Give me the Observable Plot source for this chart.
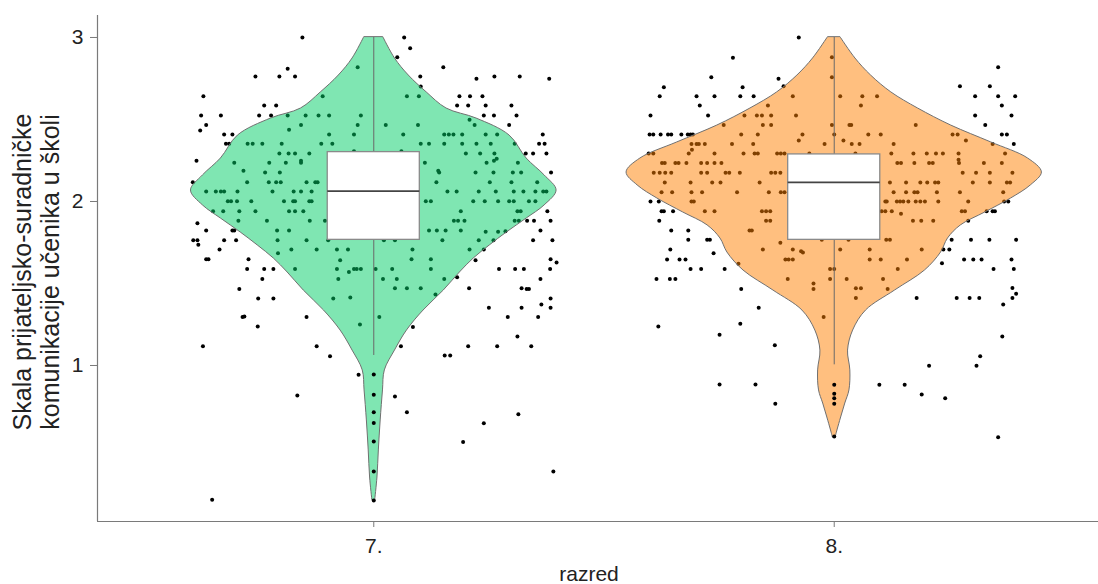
<!DOCTYPE html>
<html>
<head>
<meta charset="utf-8">
<script src="https://cdn.jsdelivr.net/npm/d3@7"></script>
<script src="https://cdn.jsdelivr.net/npm/@observablehq/plot@0.6"></script>
<style>
  html, body { margin: 0; padding: 0; background: #fff; }
</style>
</head>
<body>
<div id="chart"></div>
<script>
// ---------- data ----------
const categories = ["7.", "8."];
const fills = ["#00CD66", "#FF7F00"];
const yTicks = [1, 2, 3];
const yTickLabels = ["1", "2", "3"];
const xTitle = "razred";
const yTitleLines = ["Skala prijateljsko-suradničke", "komunikacije učenika u školi"];

// violin outlines: value and half width (in category units)
const violin7Values = [3.0, 2.872, 2.768, 2.665, 2.567, 2.506, 2.402, 2.262, 2.159, 2.067, 1.976, 1.896, 1.811, 1.732, 1.652, 1.567, 1.457, 1.335, 1.213, 1.091, 0.970, 0.848, 0.665, 0.482, 0.317, 0.177];
const violin7Half   = [0.021, 0.046, 0.076, 0.115, 0.158, 0.223, 0.295, 0.332, 0.371, 0.397, 0.371, 0.332, 0.289, 0.252, 0.217, 0.187, 0.152, 0.108, 0.072, 0.046, 0.024, 0.020, 0.015, 0.011, 0.008, 0.003];
const violin8Values = [3.0, 2.872, 2.768, 2.665, 2.567, 2.463, 2.360, 2.262, 2.177, 2.098, 2.018, 1.933, 1.854, 1.774, 1.689, 1.579, 1.457, 1.335, 1.213, 1.091, 0.970, 0.848, 0.768, 0.683, 0.604, 0.561];
const violin8Half   = [0.014, 0.046, 0.080, 0.124, 0.182, 0.254, 0.341, 0.421, 0.451, 0.427, 0.384, 0.328, 0.275, 0.247, 0.232, 0.197, 0.132, 0.069, 0.041, 0.030, 0.035, 0.033, 0.024, 0.015, 0.007, 0.003];

// box plot statistics per category
const whiskerLow  = [1.061, 1.004];
const q1          = [1.766, 1.766];
const median      = [2.063, 2.116];
const q3          = [2.301, 2.287];
const whiskerHigh = [3.0, 3.0];
const outliers7 = [0.945, 0.821, 0.715, 0.650, 0.537, 0.354, 0.177];
const outliers8 = [0.882, 0.827, 0.801, 0.767, 0.567];

// jittered observations: [value, horizontal jitter in category units]
const points7 = [
[3.0,-0.155],[3.0,0.066],[2.935,0.079],[2.88,0.051],[2.819,-0.035],[2.809,-0.187],[2.819,0.151],
[2.762,-0.257],[2.762,-0.205],[2.762,-0.171],[2.762,0.101],[2.762,0.262],[2.762,0.317],[2.748,0.223],[2.748,0.381],
[2.701,0.102],
[2.642,-0.370],[2.642,-0.111],[2.642,0.072],[2.642,0.098],[2.642,0.186],[2.642,0.209],[2.642,0.236],
[2.585,-0.238],[2.585,-0.212],[2.585,0.181],[2.585,0.205],[2.585,0.243],[2.585,0.299],
[2.524,-0.375],[2.524,-0.332],[2.524,-0.249],[2.524,-0.223],[2.524,-0.187],[2.524,-0.148],[2.524,-0.120],[2.524,-0.097],[2.524,-0.028],[2.524,0.239],[2.524,0.261],[2.524,0.310],
[2.467,-0.364],[2.467,-0.158],[2.467,-0.035],[2.467,0.026],[2.467,0.096],[2.467,0.219],[2.467,0.294],[2.498,0.208],[2.433,-0.377],[2.437,-0.184],
[2.409,-0.325],[2.409,-0.307],[2.409,-0.097],[2.409,-0.043],[2.409,0.064],[2.409,0.153],[2.409,0.163],[2.409,0.173],[2.409,0.192],[2.409,0.243],[2.409,0.268],[2.409,0.367],
[2.352,-0.321],[2.352,-0.314],[2.352,-0.274],[2.352,-0.263],[2.352,-0.242],[2.352,-0.200],[2.352,-0.114],[2.352,-0.090],[2.352,0.102],[2.352,0.120],[2.352,0.153],[2.352,0.192],[2.352,0.223],[2.352,0.254],[2.352,0.306],[2.352,0.359],[2.352,0.371],
[2.293,-0.205],[2.293,-0.185],[2.293,-0.171],[2.293,-0.140],[2.293,0.200],[2.293,0.231],[2.293,0.262],[2.293,0.330],[2.293,0.346],[2.293,0.375],[2.307,-0.043],[2.307,0.060],
[2.236,-0.303],[2.236,-0.227],[2.236,-0.191],[2.236,-0.158],[2.236,0.111],[2.236,0.245],[2.236,0.313],[2.248,-0.385],[2.248,-0.158],[2.248,0.261],[2.26,0.267],
[2.177,-0.236],[2.177,-0.204],[2.177,0.142],[2.177,0.221],[2.177,0.260],[2.177,0.302],[2.177,0.320],[2.177,0.385],[2.187,-0.283],[2.187,0.140],
[2.118,-0.393],[2.118,-0.275],[2.118,-0.228],[2.118,-0.212],[2.118,-0.202],[2.118,-0.146],[2.118,-0.127],[2.118,-0.122],[2.118,0.136],[2.118,0.252],[2.118,0.299],[2.118,0.355],
[2.061,-0.364],[2.061,-0.343],[2.061,-0.332],[2.061,-0.325],[2.061,-0.296],[2.061,-0.220],[2.061,-0.174],[2.061,-0.158],[2.061,-0.135],[2.061,0.160],[2.061,0.180],[2.061,0.228],[2.061,0.265],[2.061,0.304],[2.061,0.325],[2.061,0.351],[2.061,0.368],[2.061,0.375],
[2.002,-0.317],[2.002,-0.310],[2.002,-0.297],[2.002,-0.266],[2.002,-0.195],[2.002,-0.175],[2.002,-0.171],[2.002,-0.140],[2.002,-0.135],[2.002,0.113],[2.002,0.124],[2.002,0.216],[2.002,0.241],[2.002,0.270],[2.002,0.294],[2.002,0.304],[2.002,0.337],[2.002,0.351],
[1.941,-0.349],[1.941,-0.327],[1.941,-0.292],[1.941,-0.257],[1.941,-0.184],[1.941,-0.171],[1.941,-0.153],[1.941,0.189],[1.941,0.312],[1.941,0.319],[1.941,0.377],
[1.868,-0.383],[1.882,-0.294],[1.882,-0.232],[1.882,-0.139],[1.882,-0.106],[1.882,0.174],[1.882,0.183],[1.882,0.197],[1.882,0.306],[1.882,0.315],[1.882,0.333],[1.882,0.348],[1.882,0.384],
[1.823,-0.364],[1.823,-0.307],[1.823,-0.303],[1.823,-0.210],[1.823,-0.184],[1.823,0.120],[1.823,0.137],[1.823,0.156],[1.823,0.189],[1.815,0.243],[1.815,0.270],[1.818,0.286],[1.823,0.362],
[1.764,-0.392],[1.764,-0.383],[1.736,-0.381],[1.764,-0.325],[1.764,-0.299],[1.764,-0.209],[1.764,-0.146],[1.764,-0.099],[1.764,0.022],[1.764,0.046],[1.764,0.149],[1.764,0.228],[1.764,0.260],[1.764,0.346],[1.764,0.388],
[1.707,-0.335],[1.685,-0.208],[1.707,-0.179],[1.707,-0.124],[1.707,-0.080],[1.707,-0.056],[1.707,0.084],[1.707,0.208],[1.707,0.239],
[1.648,-0.364],[1.648,-0.359],[1.648,-0.272],[1.642,-0.073],[1.648,0.082],[1.648,0.124],[1.642,0.221],[1.648,0.384],[1.628,0.397],
[1.589,-0.275],[1.589,-0.238],[1.589,-0.218],[1.589,-0.171],[1.589,-0.080],[1.57,-0.054],[1.589,-0.043],[1.589,-0.037],[1.589,-0.028],[1.589,0.004],[1.589,0.040],[1.589,0.124],[1.589,0.272],[1.589,0.307],[1.589,0.326],[1.589,0.383],
[1.528,-0.242],[1.528,-0.077],[1.528,0.020],[1.528,0.050],[1.528,0.153],[1.538,0.181],[1.528,0.362],
[1.467,-0.292],[1.471,0.046],[1.471,0.072],[1.471,0.102],[1.471,0.207],[1.471,0.321],[1.467,0.332],[1.467,0.337],
[1.409,-0.251],[1.409,-0.218],[1.409,-0.088],[1.415,-0.051],[1.433,0.134],[1.409,0.384],
[1.352,0.250],[1.352,0.321],[1.372,0.364],[1.352,0.384],
[1.295,-0.285],[1.298,-0.281],[1.295,-0.146],[1.295,0.012],[1.295,0.291],[1.295,0.357],
[1.238,-0.252],[1.250,-0.030],[1.234,0.085],
[1.177,0.312],
[1.118,-0.371],[1.118,-0.124],[1.118,0.059],[1.118,0.205],[1.118,0.268],[1.118,0.342],
[1.057,-0.095],[1.061,0.154],[1.061,0.166],
[0.943,-0.033],
[0.817,-0.166],[0.811,0.046],
[0.715,0.072],[0.703,0.314],
[0.648,0.239],
[0.533,0.194],
[0.354,0.390],
[0.181,-0.351]
];
const points8 = [
[3.0,-0.077],[2.876,-0.220],[2.880,-0.005],[2.758,-0.267],[2.748,-0.121],[2.758,-0.005],[2.819,0.356],
[2.697,-0.370],[2.697,-0.199],[2.703,-0.110],[2.703,0.273],[2.703,0.338],
[2.642,-0.379],[2.642,-0.299],[2.642,-0.260],[2.642,-0.204],[2.642,-0.175],[2.642,-0.090],[2.642,0.013],[2.642,0.061],[2.642,0.093],[2.642,0.306],[2.642,0.356],[2.642,0.393],
[2.585,-0.292],[2.585,0.058],[2.585,-0.144],[2.585,0.364],
[2.524,-0.399],[2.524,-0.274],[2.524,-0.195],[2.524,-0.168],[2.524,-0.157],[2.524,-0.137],[2.524,-0.083],[2.524,0.306],[2.524,0.385],
[2.467,-0.240],[2.467,-0.155],[2.467,-0.137],[2.467,-0.005],[2.467,0.033],[2.467,0.037],[2.467,0.177],[2.467,0.328],
[2.409,-0.401],[2.409,-0.393],[2.409,-0.377],[2.409,-0.361],[2.409,-0.354],[2.409,-0.332],[2.409,-0.318],[2.409,-0.312],[2.409,-0.307],[2.409,-0.202],[2.409,-0.166],[2.409,-0.069],[2.409,0.0],[2.409,0.074],[2.409,0.101],[2.409,0.257],[2.409,0.268],[2.409,0.364],[2.409,0.375],
[2.350,-0.310],[2.350,-0.299],[2.350,-0.294],[2.350,-0.281],[2.350,-0.222],[2.350,-0.176],[2.372,-0.077],[2.350,-0.021],[2.372,0.020],[2.350,0.038],[2.350,0.055],[2.350,0.129],[2.372,0.286],[2.350,0.344],[2.350,0.390],
[2.293,-0.403],[2.293,-0.393],[2.293,-0.316],[2.293,-0.260],[2.293,-0.197],[2.293,-0.173],[2.293,-0.166],[2.293,-0.124],[2.293,-0.116],[2.293,-0.108],[2.293,-0.054],[2.293,0.046],[2.293,0.124],[2.293,0.172],[2.293,0.201],[2.293,0.221],[2.293,0.236],[2.293,0.270],[2.293,0.371],[2.315,-0.309],
[2.234,-0.374],[2.234,-0.368],[2.234,-0.345],[2.234,-0.338],[2.234,-0.321],[2.234,-0.289],[2.234,-0.276],[2.234,-0.260],[2.234,-0.245],[2.234,0.137],[2.234,0.145],[2.234,0.174],[2.234,0.206],[2.234,0.214],[2.234,0.271],[2.234,0.325],[2.234,0.364],[2.255,0.270],
[2.175,-0.392],[2.175,-0.379],[2.175,-0.367],[2.175,-0.354],[2.175,-0.289],[2.175,-0.276],[2.175,-0.236],[2.175,-0.228],[2.175,-0.205],[2.175,-0.137],[2.175,-0.128],[2.175,-0.117],[2.175,0.279],[2.175,0.308],[2.175,0.338],[2.175,0.387],
[2.116,-0.368],[2.116,-0.312],[2.116,-0.265],[2.116,-0.247],[2.116,-0.162],[2.116,0.121],[2.116,0.156],[2.116,0.187],[2.116,0.202],[2.116,0.219],[2.116,0.226],[2.116,0.301],[2.116,0.338],[2.116,0.375],[2.116,0.382],
[2.057,-0.375],[2.057,-0.352],[2.057,-0.310],[2.057,-0.287],[2.057,-0.211],[2.057,-0.142],[2.057,-0.116],[2.057,-0.108],[2.057,0.129],[2.057,0.156],[2.057,0.174],[2.057,0.181],[2.057,0.223],[2.057,0.273],[2.057,0.367],
[2.0,-0.399],[2.0,-0.381],[2.0,-0.310],[2.0,-0.305],[2.0,0.111],[2.0,0.114],[2.0,0.136],[2.0,0.143],[2.0,0.150],[2.0,0.161],[2.0,0.177],[2.0,0.187],[2.0,0.197],[2.0,0.226],[2.0,0.291],[2.0,0.369],[2.0,0.378],
[1.941,-0.375],[1.941,-0.370],[1.941,-0.350],[1.941,-0.281],[1.941,-0.260],[1.941,-0.157],[1.941,-0.148],[1.941,-0.139],[1.941,0.103],[1.941,0.111],[1.941,0.125],[1.941,0.277],[1.941,0.284],[1.941,0.331],[1.941,0.344],[1.941,0.349],[1.925,0.145],
[1.882,-0.380],[1.882,-0.148],[1.882,-0.139],[1.882,0.171],[1.882,0.189],[1.882,0.215],[1.882,0.291],
[1.823,-0.354],[1.823,-0.317],[1.823,-0.184],[1.823,-0.179],
[1.766,-0.317],[1.766,-0.276],[1.766,-0.270],[1.748,-0.117],[1.766,-0.027],[1.766,0.031],[1.766,0.113],[1.766,0.121],[1.766,0.255],[1.766,0.297],[1.766,0.337],[1.766,0.395],
[1.707,-0.356],[1.685,-0.262],[1.707,-0.155],[1.707,-0.090],[1.689,-0.068],[1.697,-0.072],[1.707,0.013],[1.707,0.077],[1.707,0.190],[1.707,0.237],[1.707,0.250],
[1.646,-0.363],[1.646,-0.336],[1.646,-0.323],[1.646,-0.106],[1.646,-0.099],[1.646,-0.090],[1.646,0.077],[1.646,0.101],[1.646,0.158],[1.646,0.282],[1.646,0.302],[1.646,0.320],[1.646,0.385],[1.624,0.234],
[1.589,-0.312],[1.589,-0.289],[1.589,-0.238],[1.62,-0.208],[1.589,-0.009],[1.589,0.0],[1.589,0.138],[1.589,0.346],[1.589,0.390],
[1.528,-0.386],[1.528,-0.357],[1.528,-0.345],[1.528,-0.101],[1.528,-0.009],[1.528,0.027],[1.528,0.106],[1.472,0.387],
[1.467,-0.202],[1.500,-0.045],[1.467,-0.045],[1.471,0.047],[1.471,0.058],[1.467,0.116],[1.438,0.395],
[1.411,0.047],[1.411,0.179],[1.411,0.266],[1.411,0.294],[1.411,0.315],[1.411,0.387],
[1.352,-0.164],[1.372,0.367],
[1.295,-0.023],
[1.238,-0.382],[1.254,-0.204],
[1.187,-0.249],[1.177,0.365],
[1.124,-0.129],
[1.057,0.317],
[0.999,0.206],[0.999,0.309],
[0.884,-0.249],[0.884,-0.171],[0.882,0.098],[0.882,0.153],
[0.823,0.190],[0.801,0.241],
[0.766,-0.128],
[0.563,0.356]
];

// ---------- build tables ----------
const centers = [1, 2];
const jittered = [
  ...points7.map(([v, j]) => ({x: centers[0] + j, v})),
  ...points8.map(([v, j]) => ({x: centers[1] + j, v}))
];
const violins = [
  ...violin7Values.map((v, i) => ({g: 0, v, lo: centers[0] - violin7Half[i], hi: centers[0] + violin7Half[i]})),
  ...violin8Values.map((v, i) => ({g: 1, v, lo: centers[1] - violin8Half[i], hi: centers[1] + violin8Half[i]}))
];
const boxes = centers.map((c, i) => ({
  c, lo: c - 0.1, hi: c + 0.1,
  wl: whiskerLow[i], q1: q1[i], med: median[i], q3: q3[i], wh: whiskerHigh[i]
}));
const outl = [
  ...outliers7.map(v => ({x: centers[0], v})),
  ...outliers8.map(v => ({x: centers[1], v}))
];

const yDomain = [0.0488, 3.134];
const W = 1098, H = 584;

const chart = Plot.plot({
  width: W,
  height: H,
  marginLeft: 97,
  marginRight: 0,
  marginTop: 15,
  marginBottom: 63,
  style: {fontFamily: "'Liberation Sans', Arial, sans-serif", fontSize: "21px", background: "#fff", color: "#222"},
  x: {type: "linear", domain: [0.4, 2.6], range: [97, 1110], axis: null},
  y: {domain: yDomain, axis: null},
  marks: [
    Plot.dot(jittered, {x: "x", y: "v", r: 2, fill: "#000", stroke: "none"}),
    Plot.areaX(violins, {
      y: "v", x1: "lo", x2: "hi", z: "g",
      fill: d => fills[d.g], fillOpacity: 0.5,
      stroke: "#707070", strokeWidth: 1, curve: "catmull-rom"
    }),
    Plot.ruleX(boxes, {x: "c", y1: "wl", y2: "wh", stroke: "#6a6a6a", strokeWidth: 1}),
    Plot.rect(boxes, {x1: "lo", x2: "hi", y1: "q1", y2: "q3", fill: "#fff", stroke: "#8a8a8a", strokeWidth: 1.3}),
    Plot.ruleY(boxes, {x1: "lo", x2: "hi", y: "med", stroke: "#444", strokeWidth: 1.8}),
    Plot.dot(outl, {x: "x", y: "v", r: 2, fill: "#000", stroke: "none"}),
    Plot.ruleX([0.4], {stroke: "#7a7a7a", strokeWidth: 1.2}),
    Plot.ruleY([yDomain[0]], {stroke: "#7a7a7a", strokeWidth: 1.2}),
    Plot.axisY(yTicks, {anchor: "left", tickSize: 7, tickPadding: 7, tickFormat: d => yTickLabels[yTicks.indexOf(d)], stroke: "#7a7a7a", fill: "#222", fontSize: 21, label: null}),
    Plot.axisX(centers, {anchor: "bottom", tickSize: 6, tickPadding: 11, tickFormat: d => categories[d - 1], stroke: "#7a7a7a", fill: "#222", fontSize: 21, label: null})
  ]
});

document.getElementById("chart").appendChild(chart);

// axis titles
const svg = d3.select(chart.tagName.toLowerCase() === "svg" ? chart : chart.querySelector("svg"));
svg.append("text")
  .attr("x", 589).attr("y", 581)
  .attr("text-anchor", "middle")
  .attr("font-family", "'Liberation Sans', Arial, sans-serif")
  .attr("font-size", 21)
  .attr("fill", "#222")
  .text(xTitle);
const yt = svg.append("text")
  .attr("transform", "translate(38,272) rotate(-90)")
  .attr("text-anchor", "middle")
  .attr("font-family", "'Liberation Sans', Arial, sans-serif")
  .attr("font-size", 25)
  .attr("fill", "#222");
yt.append("tspan").attr("x", 0).attr("y", -7).text(yTitleLines[0]);
yt.append("tspan").attr("x", 0).attr("y", 21).text(yTitleLines[1]);
</script>
</body>
</html>
